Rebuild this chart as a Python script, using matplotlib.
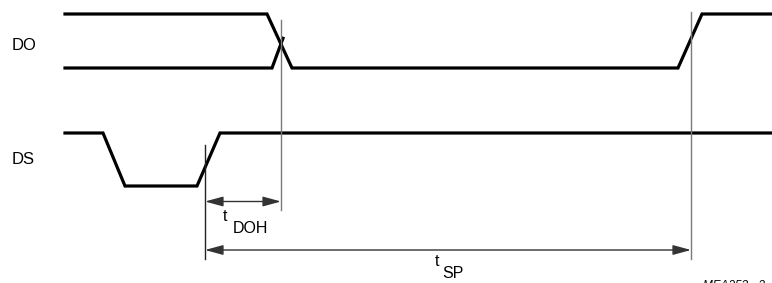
import matplotlib.pyplot as plt

# timing waveforms: time (x, px) and logic level (0 = low, 1 = high)
do_fall_t = [65, 267, 292, 678, 702, 772]
do_fall_lvl = [1, 1, 0, 0, 1, 1]
do_rise_t = [65, 272, 283]
do_rise_lvl = [0, 0, 0.55]
ds_t = [65, 103, 125, 197, 220, 772]
ds_lvl = [1, 1, 0, 0, 1, 1]

signal_names = ["DO", "DS"]
signal_hi = [14, 133]
signal_lo = [68, 186]

# reference edges and timing parameters
t_do_edge = 281
t_ds_edge = 205
t_do_rise = 691
t_doh = (t_ds_edge, t_do_edge)
t_sp = (t_ds_edge, t_do_rise)


def level_to_y(lvl, i):
    return [signal_lo[i] + v * (signal_hi[i] - signal_lo[i]) for v in lvl]


fig = plt.figure(figsize=(7.72, 2.83), dpi=100)
ax = fig.add_axes([0, 0, 1, 1])
ax.set_xlim(0, 772)
ax.set_ylim(283, 0)
ax.axis('off')

lw = 2.3
ax.plot(do_fall_t, level_to_y(do_fall_lvl, 0), color='black', lw=lw, solid_joinstyle='miter')
ax.plot(do_rise_t, level_to_y(do_rise_lvl, 0), color='black', lw=lw, solid_joinstyle='miter')
ax.plot(ds_t, level_to_y(ds_lvl, 1), color='black', lw=lw, solid_joinstyle='miter')

for name, y in zip(signal_names, [49.5, 164.5]):
    ax.text(12, y, name, fontsize=12, family='Liberation Sans',
            va='baseline', ha='left')

# vertical reference lines
ax.plot([t_do_edge, t_do_edge], [20, 210], color='#7a7a7a', lw=1.0)
ax.plot([t_ds_edge, t_ds_edge], [145, 259], color='#222222', lw=1.0)
ax.plot([t_do_rise, t_do_rise], [12, 259], color='#7a7a7a', lw=1.0)

arrow_style = '<|-|>,head_length=0.55,head_width=0.15'
ax.annotate('', xy=(t_doh[1], 201.5), xytext=(t_doh[0], 201.5),
            arrowprops=dict(arrowstyle=arrow_style, mutation_scale=20, lw=1.0,
                            color='#333333', shrinkA=0, shrinkB=0))
ax.annotate('', xy=(t_sp[1], 250), xytext=(t_sp[0], 250),
            arrowprops=dict(arrowstyle=arrow_style, mutation_scale=20, lw=1.0,
                            color='#333333', shrinkA=0, shrinkB=0))

ax.text(223, 221, 't', fontsize=11.5, family='Liberation Sans', ha='left', va='baseline')
ax.text(233, 233, 'DOH', fontsize=11.5, family='Liberation Sans', ha='left', va='baseline')
ax.text(435, 266, 't', fontsize=11.5, family='Liberation Sans', ha='left', va='baseline')
ax.text(442, 278, 'SP', fontsize=11.5, family='Liberation Sans', ha='left', va='baseline')

ax.text(703, 289, 'MEA253 - 3', fontsize=8.5, family='Liberation Sans', style='italic',
        ha='left', va='baseline', clip_on=False)

fig.savefig('out.png', dpi=100)
